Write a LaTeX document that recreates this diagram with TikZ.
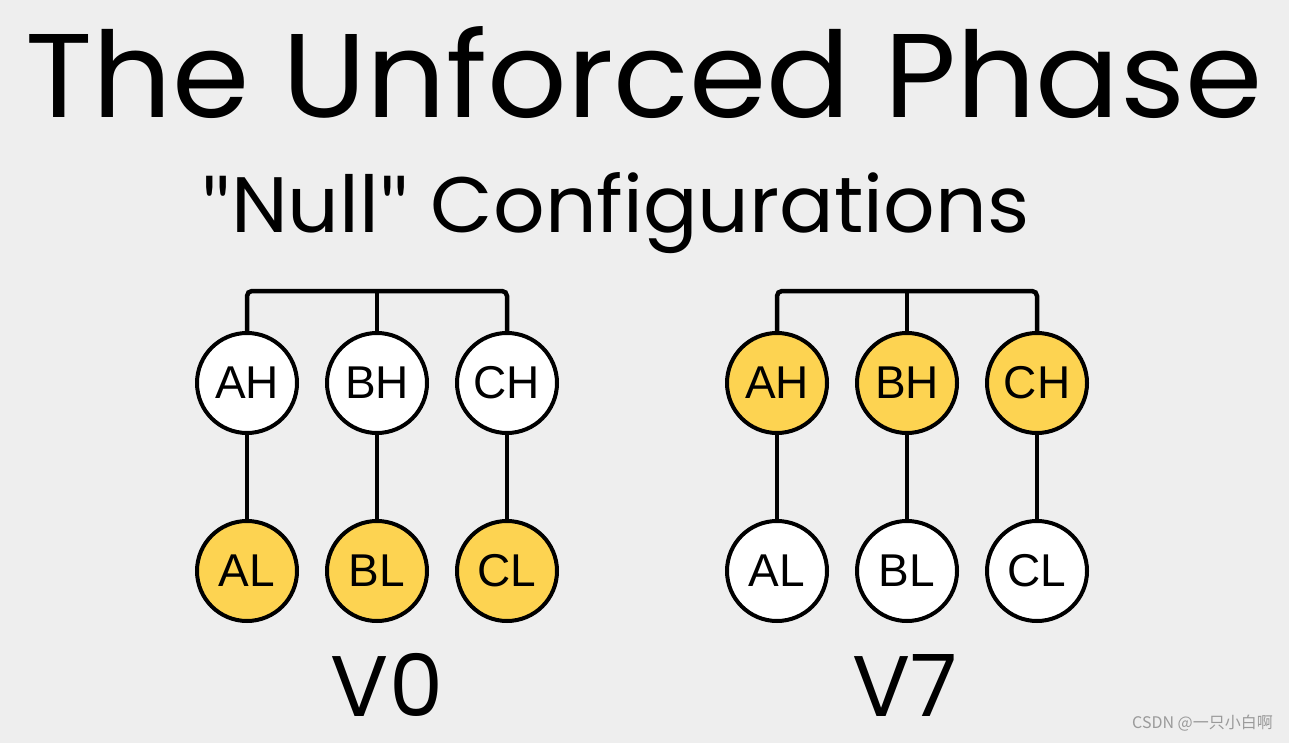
\documentclass[tikz,border=0pt]{standalone}
\usepackage{fontspec}
\setmainfont{Poppins}
\newfontfamily\arialf{Liberation Sans}
\newfontfamily\latof{Lato}
\newfontfamily\cjkf{Noto Sans CJK SC}
\definecolor{bgc}{HTML}{EEEEEE}
\definecolor{yel}{HTML}{FDD351}
\definecolor{wm}{HTML}{9A9A9A}
\tikzset{
  vert/.style={circle,draw=black,line width=4pt,minimum size=100pt,inner sep=0pt,font=\arialf\fontsize{46}{46}\selectfont},
  onv/.style={vert,fill=yel},
  offv/.style={vert,fill=white},
  wire/.style={line width=4.5pt,black},
  big/.style={inner sep=0pt,font=\fontsize{86}{86}\selectfont}
}
\begin{document}
\begin{tikzpicture}[x=1pt,y=-1pt]
\fill[bgc] (0,0) rectangle (1289,743);
\useasboundingbox (0,0) rectangle (1289,743);
% title
\node[anchor=base west,inner sep=0pt] (title) at (25,118) {\resizebox{1237pt}{91pt}{\fontsize{120}{120}\selectfont The Unforced Phase}};
\node[anchor=base west,inner sep=0pt] (sub) at (201,233) {\resizebox{828pt}{60pt}{\fontsize{80}{80}\selectfont{\latof\symbol{34}}Null{\latof\symbol{34}} Configurations}};
% V0 group
\foreach \n/\x in {A/247,B/377,C/507}{
  \node[offv] (\n H0) at (\x,383) {\n H};
  \node[onv] (\n L0) at (\x,571) {\n L};
  \draw[wire] (\n H0) -- (\n L0);
}
\coordinate (bar0) at (377,291);
\draw[wire,rounded corners=5pt] (AH0.north) |- (bar0) -| (CH0.north);
\draw[wire] (BH0.north) -- (BH0.north |- bar0);
% V7 group
\foreach \n/\x in {A/777,B/907,C/1037}{
  \node[onv] (\n H7) at (\x,383) {\n H};
  \node[offv] (\n L7) at (\x,571) {\n L};
  \draw[wire] (\n H7) -- (\n L7);
}
\coordinate (bar7) at (907,291);
\draw[wire,rounded corners=5pt] (AH7.north) |- (bar7) -| (CH7.north);
\draw[wire] (BH7.north) -- (BH7.north |- bar7);
% labels
\node[big,anchor=base] (v0) at (387,716) {V0};
\node[big,anchor=base] (v7) at (905,716) {V7};
% watermark
\node[anchor=base east,inner sep=0pt,text=wm,font=\cjkf\fontsize{16}{16}\selectfont] (wmk) at (1273,728) {CSDN @一只小白啊};
\end{tikzpicture}
\end{document}
